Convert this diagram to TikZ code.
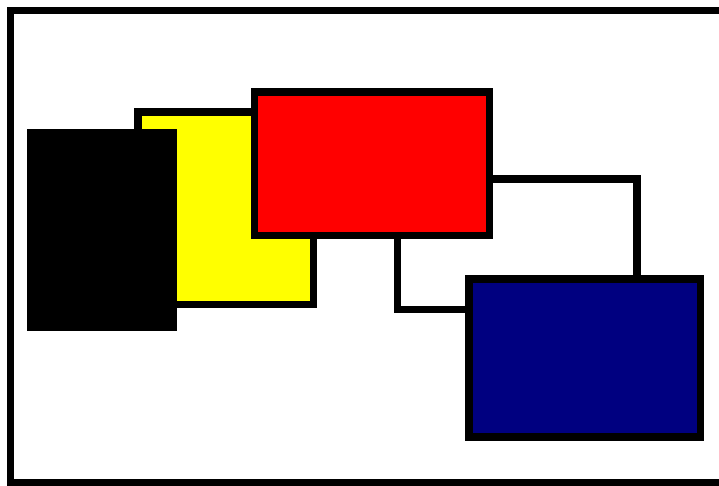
\documentclass[tikz,border=0pt]{standalone}
\usepackage{xcolor}
\definecolor{navyish}{HTML}{000080}
\definecolor{redish}{HTML}{FF0000}
\definecolor{yellowish}{HTML}{FFFF00}

\begin{document}
\begin{tikzpicture}[x=1pt,y=-1pt,box/.style={draw=black,line width=7.5pt,line join=miter}]
        \useasboundingbox (0,0) rectangle (719,485);
        \draw[box] (10.5,10.5) rectangle (723,483);
        \filldraw[box,fill=yellowish] (138,112) rectangle (313.5,304.5);
        \fill[black] (27,129) rectangle (177,331);
        \draw[box] (397.5,179) rectangle (637,309.5);
        \filldraw[box,fill=redish] (254.5,92) rectangle (489.5,235.5);
        \filldraw[box,fill=navyish] (469,279) rectangle (700.5,437);
    \end{tikzpicture}
\end{document}
